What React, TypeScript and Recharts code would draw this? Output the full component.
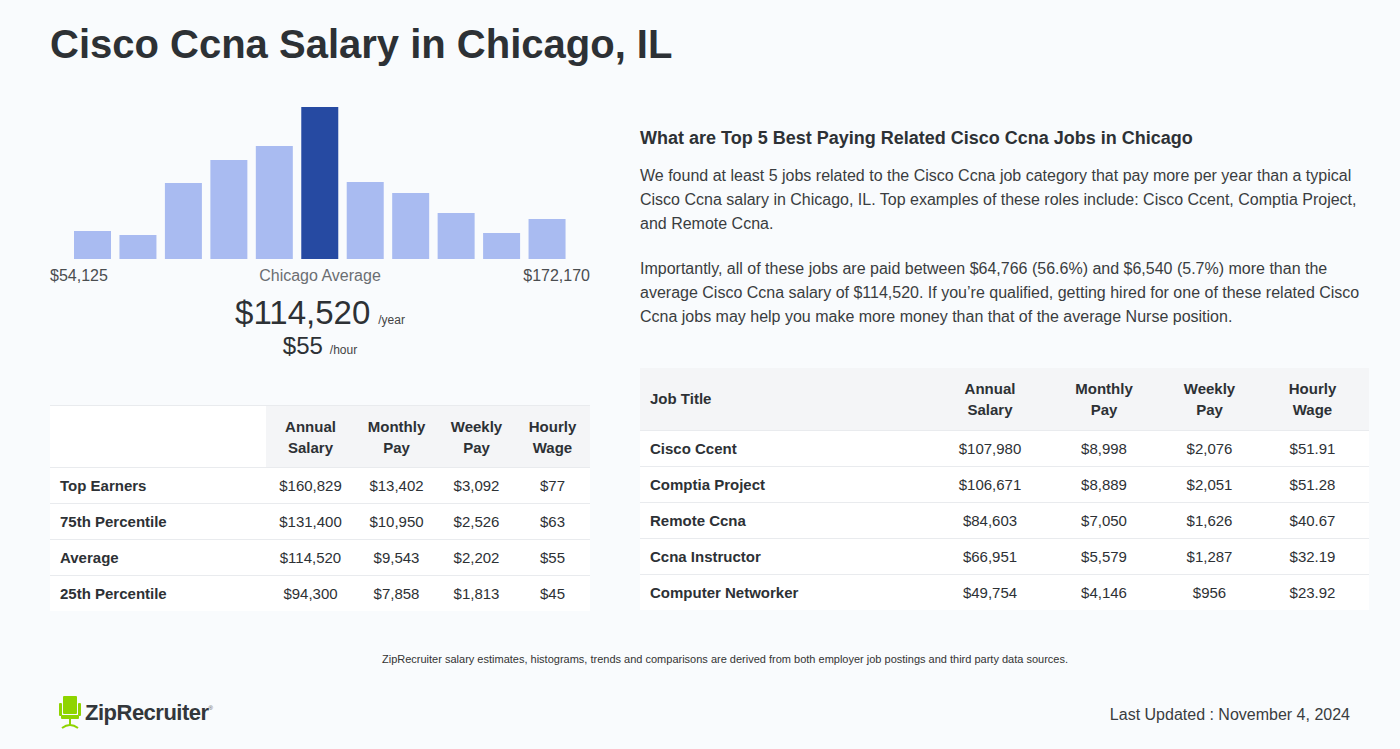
import { BarChart, Bar, Cell, XAxis, YAxis } from "recharts";

// histogram bins (relative counts)
const bins = ["b1", "b2", "b3", "b4", "b5", "b6", "b7", "b8", "b9", "b10", "b11"];
const binCounts = [28, 24, 76, 99, 113, 152, 77, 66, 46, 26, 40];
const highlightBin = 5;

const percentileRows = ["Top Earners", "75th Percentile", "Average", "25th Percentile"];
const percentileAnnual = ["$160,829", "$131,400", "$114,520", "$94,300"];
const percentileMonthly = ["$13,402", "$10,950", "$9,543", "$7,858"];
const percentileWeekly = ["$3,092", "$2,526", "$2,202", "$1,813"];
const percentileHourly = ["$77", "$63", "$55", "$45"];

const jobTitles = ["Cisco Ccent", "Comptia Project", "Remote Ccna", "Ccna Instructor", "Computer Networker"];
const jobAnnual = ["$107,980", "$106,671", "$84,603", "$66,951", "$49,754"];
const jobMonthly = ["$8,998", "$8,889", "$7,050", "$5,579", "$4,146"];
const jobWeekly = ["$2,076", "$2,051", "$1,626", "$1,287", "$956"];
const jobHourly = ["$51.91", "$51.28", "$40.67", "$32.19", "$23.92"];

const histData = bins.map((bin, i) => ({ bin, count: binCounts[i] }));

const FONT = '"Liberation Sans", Arial, Helvetica, sans-serif';
const TEXT = "#2d3135";
const LIGHT_BAR = "#a9bbf1";
const DARK_BAR = "#264aa2";
const HEAD_BG = "#f4f5f7";
const ROW_LINE = "#e9ebee";

function Histogram() {
  return (
    <BarChart
      width={540}
      height={160}
      data={histData}
      margin={{ top: 8, right: 20, bottom: 0, left: 20 }}
    >
      <XAxis dataKey="bin" hide />
      <YAxis hide domain={[0, 152]} />
      <Bar dataKey="count" barSize={37} isAnimationActive={false}>
        {histData.map((d, i) => (
          <Cell key={d.bin} fill={i === highlightBin ? DARK_BAR : LIGHT_BAR} />
        ))}
      </Bar>
    </BarChart>
  );
}

const th: React.CSSProperties = {
  fontWeight: 700,
  fontSize: 15,
  lineHeight: "21px",
  color: TEXT,
  textAlign: "center",
  background: HEAD_BG,
  padding: 0,
};

const td: React.CSSProperties = {
  fontSize: 15,
  color: TEXT,
  textAlign: "center",
  borderTop: `1px solid ${ROW_LINE}`,
  padding: 0,
  height: 35,
};

const tdLabel: React.CSSProperties = {
  ...td,
  textAlign: "left",
  fontWeight: 700,
  paddingLeft: 10,
};

function PercentileTable() {
  return (
    <table
      style={{
        position: "absolute",
        left: 50,
        top: 405,
        width: 540,
        borderCollapse: "collapse",
        background: "#fff",
        fontFamily: FONT,
        borderTop: `1px solid ${ROW_LINE}`,
      }}
    >
      <colgroup>
        <col style={{ width: 216 }} />
        <col style={{ width: 89 }} />
        <col style={{ width: 83 }} />
        <col style={{ width: 77 }} />
        <col style={{ width: 75 }} />
      </colgroup>
      <thead>
        <tr style={{ height: 62 }}>
          <th style={{ ...th, background: "#fff" }}></th>
          <th style={th}>Annual<br />Salary</th>
          <th style={th}>Monthly<br />Pay</th>
          <th style={th}>Weekly<br />Pay</th>
          <th style={th}>Hourly<br />Wage</th>
        </tr>
      </thead>
      <tbody>
        {percentileRows.map((r, i) => (
          <tr key={r}>
            <td style={tdLabel}>{r}</td>
            <td style={td}>{percentileAnnual[i]}</td>
            <td style={td}>{percentileMonthly[i]}</td>
            <td style={td}>{percentileWeekly[i]}</td>
            <td style={td}>{percentileHourly[i]}</td>
          </tr>
        ))}
      </tbody>
    </table>
  );
}

function JobsTable() {
  return (
    <table
      style={{
        position: "absolute",
        left: 640,
        top: 368,
        width: 729,
        borderCollapse: "collapse",
        background: "#fff",
        fontFamily: FONT,
      }}
    >
      <colgroup>
        <col style={{ width: 295 }} />
        <col style={{ width: 110 }} />
        <col style={{ width: 118 }} />
        <col style={{ width: 93 }} />
        <col style={{ width: 113 }} />
      </colgroup>
      <thead>
        <tr style={{ height: 62 }}>
          <th style={{ ...th, textAlign: "left", paddingLeft: 10 }}>Job Title</th>
          <th style={th}>Annual<br />Salary</th>
          <th style={th}>Monthly<br />Pay</th>
          <th style={th}>Weekly<br />Pay</th>
          <th style={th}>Hourly<br />Wage</th>
        </tr>
      </thead>
      <tbody>
        {jobTitles.map((j, i) => (
          <tr key={j}>
            <td style={tdLabel}>{j}</td>
            <td style={td}>{jobAnnual[i]}</td>
            <td style={td}>{jobMonthly[i]}</td>
            <td style={td}>{jobWeekly[i]}</td>
            <td style={td}>{jobHourly[i]}</td>
          </tr>
        ))}
      </tbody>
    </table>
  );
}

function Logo() {
  return (
    <div style={{ position: "absolute", left: 59, top: 695, display: "flex", alignItems: "center" }}>
      <svg width={22} height={35} viewBox="0 0 22 35">
        <rect x={4} y={1} width={14} height={18} rx={1} fill="#8fd400" />
        <rect x={0} y={8} width={3} height={13} rx={1} fill="#8fd400" />
        <rect x={19} y={8} width={3} height={13} rx={1} fill="#8fd400" />
        <rect x={2} y={20} width={18} height={4} rx={1} fill="#8fd400" />
        <rect x={10} y={24} width={2} height={7} fill="#8fd400" />
        <path d="M3 33 Q11 27 19 33" stroke="#8fd400" strokeWidth={2} fill="none" />
      </svg>
      <span
        style={{
          marginLeft: 4,
          fontFamily: FONT,
          fontWeight: 700,
          fontSize: 22,
          color: "#33373b",
          letterSpacing: -0.5,
        }}
      >
        ZipRecruiter
      </span>
      <span style={{ fontSize: 6, color: "#555", alignSelf: "flex-start", marginTop: 10, fontFamily: FONT }}>®</span>
    </div>
  );
}

export default function App() {
  return (
    <div
      style={{
        position: "absolute",
        left: 0,
        top: 0,
        width: 1400,
        height: 749,
        background: "#f9fbfd",
        fontFamily: FONT,
        color: TEXT,
        overflow: "hidden",
      }}
    >
      <div style={{ position: "absolute", left: 50, top: 18, fontSize: 40, fontWeight: 700, lineHeight: "52px" }}>
        Cisco Ccna Salary in Chicago, IL
      </div>

      <div style={{ position: "absolute", left: 50, top: 99 }}>
        <Histogram />
      </div>

      <div style={{ position: "absolute", left: 50, top: 266, width: 540, fontSize: 16, lineHeight: "20px", color: "#4a4d50" }}>
        <span style={{ position: "absolute", left: 0 }}>$54,125</span>
        <span style={{ position: "absolute", left: 0, width: 540, textAlign: "center", color: "#6b6e72" }}>Chicago Average</span>
        <span style={{ position: "absolute", right: 0 }}>$172,170</span>
      </div>

      <div style={{ position: "absolute", left: 50, top: 293, width: 540, textAlign: "center", whiteSpace: "nowrap" }}>
        <span style={{ fontSize: 33, lineHeight: "40px", color: TEXT }}>$114,520</span>
        <span style={{ fontSize: 12, marginLeft: 8, color: "#444" }}>/year</span>
      </div>
      <div style={{ position: "absolute", left: 50, top: 331, width: 540, textAlign: "center", whiteSpace: "nowrap" }}>
        <span style={{ fontSize: 24, lineHeight: "30px", color: TEXT }}>$55</span>
        <span style={{ fontSize: 12, marginLeft: 7, color: "#444" }}>/hour</span>
      </div>

      <PercentileTable />

      <div style={{ position: "absolute", left: 640, top: 126, width: 730, fontSize: 18, fontWeight: 700, lineHeight: "24px" }}>
        What are Top 5 Best Paying Related Cisco Ccna Jobs in Chicago
      </div>
      <div style={{ position: "absolute", left: 640, top: 164, width: 730, fontSize: 16, lineHeight: "24px", color: "#3a3d40" }}>
        We found at least 5 jobs related to the Cisco Ccna job category that pay more per year than a typical Cisco Ccna salary in Chicago, IL. Top examples of these roles include: Cisco Ccent, Comptia Project, and Remote Ccna.
      </div>
      <div style={{ position: "absolute", left: 640, top: 257, width: 730, fontSize: 16, lineHeight: "24px", color: "#3a3d40" }}>
        Importantly, all of these jobs are paid between $64,766 (56.6%) and $6,540 (5.7%) more than the average Cisco Ccna salary of $114,520. If you’re qualified, getting hired for one of these related Cisco Ccna jobs may help you make more money than that of the average Nurse position.
      </div>

      <JobsTable />

      <div style={{ position: "absolute", left: 0, top: 653, width: 1450, textAlign: "center", fontSize: 11, color: "#333" }}>
        ZipRecruiter salary estimates, histograms, trends and comparisons are derived from both employer job postings and third party data sources.
      </div>

      <Logo />

      <div style={{ position: "absolute", right: 50, top: 706, fontSize: 16, color: "#3a3d40" }}>
        Last Updated : November 4, 2024
      </div>
    </div>
  );
}
